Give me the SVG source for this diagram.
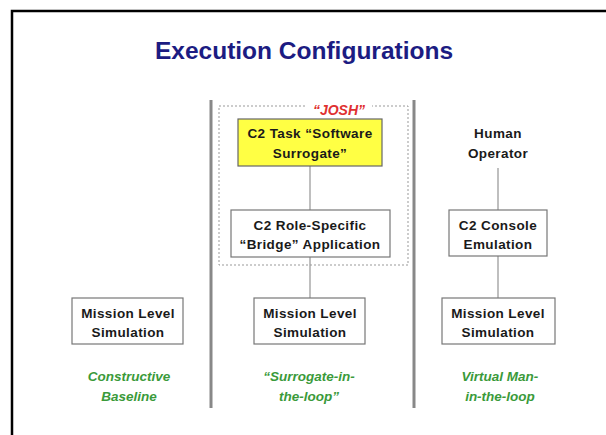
<svg xmlns="http://www.w3.org/2000/svg" width="606" height="435" viewBox="0 0 606 435">
<style>
.box{fill:#fff;stroke:#777;stroke-width:1.2}
.t{font-family:"Liberation Sans",Arial,sans-serif;font-weight:bold;font-size:13.5px;letter-spacing:0.4px;fill:#1a1a1a;text-anchor:middle}
.g{font-family:"Liberation Sans",Arial,sans-serif;font-weight:bold;font-style:italic;font-size:13.5px;fill:#3a9a3a;text-anchor:middle}
.sep{stroke:#888;stroke-width:3}
.conn{stroke:#aaa;stroke-width:1.5}
</style>
<rect width="606" height="435" fill="#fff"/>
<path d="M12,435 V11 H606" fill="none" stroke="#000" stroke-width="2.5"/>
<text x="304" y="59" font-family="'Liberation Sans',Arial,sans-serif" font-weight="bold" font-size="24.5" fill="#1c1c82" text-anchor="middle">Execution Configurations</text>
<g id="separators">
<line class="sep" x1="211" y1="100" x2="211" y2="408"/>
<line class="sep" x1="414" y1="100" x2="414" y2="408"/>
</g>
<g id="connectors">
<line class="conn" x1="310" y1="166" x2="310" y2="210"/>
<line class="conn" x1="310" y1="257" x2="310" y2="298"/>
<line class="conn" x1="498" y1="168" x2="498" y2="210"/>
<line class="conn" x1="498" y1="256" x2="498" y2="298"/>
</g>
<g id="josh">
<rect x="219" y="106" width="189" height="159" fill="none" stroke="#999" stroke-width="1" stroke-dasharray="2,2"/>
<rect x="306" y="102" width="66" height="10" fill="#fff"/>
<text x="339" y="115" font-family="'Liberation Sans',Arial,sans-serif" font-weight="bold" font-style="italic" font-size="14" fill="#e03030" text-anchor="middle">“JOSH”</text>
</g>
<g id="surrogate">
<rect x="238" y="119" width="144" height="47" fill="#ffff44" stroke="#666" stroke-width="1.2"/>
<text class="t" x="310" y="138">C2 Task “Software</text>
<text class="t" x="310" y="158">Surrogate”</text>
</g>
<g id="bridge">
<rect class="box" x="231" y="210" width="159" height="47"/>
<text class="t" x="310" y="230">C2 Role-Specific</text>
<text class="t" x="310" y="249">“Bridge” Application</text>
</g>
<g id="human">
<text class="t" x="498" y="138">Human</text>
<text class="t" x="498" y="158">Operator</text>
</g>
<g id="console">
<rect class="box" x="449" y="210" width="98" height="46"/>
<text class="t" x="498" y="230">C2 Console</text>
<text class="t" x="498" y="249">Emulation</text>
</g>
<g id="mls-left">
<rect class="box" x="72" y="298" width="111" height="46"/>
<text class="t" x="128" y="318">Mission Level</text>
<text class="t" x="128" y="337">Simulation</text>
</g>
<g id="mls-mid">
<rect class="box" x="254" y="298" width="111" height="46"/>
<text class="t" x="310" y="318">Mission Level</text>
<text class="t" x="310" y="337">Simulation</text>
</g>
<g id="mls-right">
<rect class="box" x="442" y="298" width="113" height="46"/>
<text class="t" x="498" y="318">Mission Level</text>
<text class="t" x="498" y="337">Simulation</text>
</g>
<g id="labels">
<text class="g" x="129" y="381">Constructive</text>
<text class="g" x="129" y="401">Baseline</text>
<text class="g" x="309" y="381">“Surrogate-in-</text>
<text class="g" x="309" y="401">the-loop”</text>
<text class="g" x="500" y="381">Virtual Man-</text>
<text class="g" x="500" y="401">in-the-loop</text>
</g>
</svg>
